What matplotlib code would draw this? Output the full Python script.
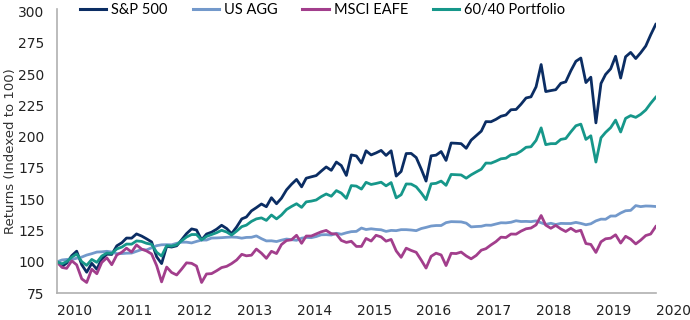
# Growth of 100 for stocks, bonds, international and a 60/40 mix, 2010-2019.

import pandas as pd
import matplotlib as mpl
import matplotlib.pyplot as plt
import matplotlib.dates as mdates

mpl.rcParams.update({
    "font.family": "DejaVu Sans",
})

# month-end dates, Dec 2009 .. Dec 2019
dates = pd.date_range("2009-12-31", periods=121, freq="ME")

sp500 = [100,
    96.3, 99.0, 104.9, 108.5, 97.7, 91.7, 98.8, 94.1, 102.3, 106.1, 105.9, 112.8,
    115.3, 119.0, 118.9, 122.3, 120.6, 118.4, 115.9, 104.0, 98.6, 112.4, 111.8, 112.8,
    117.7, 122.5, 126.3, 125.4, 117.5, 122.2, 123.7, 126.1, 129.2, 126.6, 122.5, 127.9,
    134.3, 135.8, 140.7, 143.3, 146.2, 144.0, 151.2, 146.4, 150.8, 157.5, 161.9, 165.8,
    159.9, 166.8, 167.9, 168.9, 172.5, 175.8, 173.1, 179.7, 176.9, 169.0, 185.4, 184.6,
    178.9, 188.7, 185.4, 187.0, 189.0, 185.0, 188.7, 168.5, 172.2, 186.5, 186.6, 183.3,
    174.0, 164.5, 184.7, 185.2, 188.1, 181.0, 194.9, 194.7, 194.4, 190.7, 197.2, 200.8,
    204.4, 212.0, 211.9, 213.8, 216.3, 217.3, 221.5, 221.7, 225.9, 230.9, 231.8, 239.8,
    257.6, 236.0, 236.8, 237.5, 242.6, 243.8, 252.6, 260.2, 262.8, 243.2, 247.5, 211.0,
    242.5, 249.7, 254.2, 264.2, 246.8, 263.8, 267.3, 262.4, 267.0, 272.4, 281.3, 289.7]

us_agg = [100,
    101.5, 101.9, 101.8, 102.9, 103.8, 105.4, 106.5, 107.8, 108.0, 108.4, 107.8, 106.5,
    106.6, 106.9, 107.0, 108.4, 109.8, 109.5, 111.2, 112.9, 113.6, 113.7, 113.6, 114.8,
    115.7, 115.7, 115.1, 116.3, 117.4, 117.4, 119.0, 119.1, 119.3, 119.6, 119.8, 119.6,
    118.9, 119.5, 119.6, 120.7, 118.5, 116.7, 116.8, 116.2, 117.3, 118.2, 117.7, 117.2,
    118.9, 119.5, 119.3, 120.2, 121.6, 121.7, 121.4, 122.8, 122.0, 123.2, 124.1, 124.3,
    127.0, 125.8, 126.4, 125.9, 125.6, 124.3, 125.1, 124.9, 125.7, 125.7, 125.4, 124.9,
    126.6, 127.5, 128.6, 129.0, 129.0, 131.3, 132.1, 132.0, 131.9, 130.9, 127.9, 128.2,
    128.4, 129.3, 129.2, 130.2, 131.2, 131.1, 131.6, 132.8, 132.2, 132.3, 132.1, 132.7,
    131.2, 129.9, 130.8, 129.8, 130.7, 130.6, 130.6, 131.5, 130.7, 129.6, 130.4, 132.7,
    134.1, 134.0, 136.6, 136.6, 139.0, 140.8, 141.1, 144.9, 144.1, 144.6, 144.5, 144.2]

msci_eafe = [100,
    95.5, 94.8, 100.8, 97.6, 86.4, 83.5, 94.1, 90.5, 99.5, 103.2, 97.7, 105.5,
    107.7, 110.9, 107.8, 113.5, 110.2, 108.7, 106.3, 96.9, 84.0, 95.8, 91.5, 89.5,
    94.3, 99.2, 98.8, 96.6, 83.5, 90.3, 90.6, 92.9, 95.4, 96.4, 98.6, 101.5,
    106.0, 104.8, 105.3, 110.2, 106.9, 102.8, 108.4, 106.6, 113.8, 117.0, 117.6, 121.2,
    114.8, 120.6, 120.6, 122.3, 124.0, 125.1, 122.5, 122.2, 117.1, 115.5, 116.4, 112.3,
    112.3, 118.7, 116.6, 121.2, 119.9, 116.5, 117.9, 108.7, 103.6, 110.9, 109.1, 107.6,
    101.3, 95.0, 104.4, 106.9, 105.5, 97.0, 106.8, 106.6, 107.8, 104.7, 102.4, 105.1,
    109.3, 110.5, 113.5, 116.1, 119.7, 119.4, 122.2, 122.1, 124.5, 126.4, 127.0, 129.5,
    137.0, 129.3, 126.8, 129.1, 126.3, 124.2, 126.8, 124.2, 125.2, 114.6, 113.9, 107.5,
    116.0, 118.4, 118.9, 121.6, 115.0, 120.4, 118.1, 114.3, 117.3, 121.0, 122.2, 128.2]

portfolio_6040 = [100,
    98.4, 100.2, 103.7, 106.3, 100.1, 97.2, 101.9, 99.6, 104.6, 107.0, 106.7, 110.3,
    111.8, 114.2, 114.1, 116.7, 116.3, 114.8, 114.0, 107.6, 104.6, 112.9, 112.5, 113.6,
    116.9, 119.8, 121.8, 121.8, 117.5, 120.3, 121.8, 123.3, 125.2, 123.8, 121.4, 124.6,
    128.1, 129.3, 132.3, 134.3, 135.1, 133.1, 137.4, 134.3, 137.4, 141.8, 144.2, 146.4,
    143.5, 147.9, 148.5, 149.4, 152.1, 154.2, 152.4, 156.9, 154.9, 150.7, 160.9, 160.5,
    158.1, 163.5, 161.8, 162.6, 163.6, 160.7, 163.3, 151.1, 153.6, 162.2, 162.1, 159.9,
    155.0, 149.7, 162.3, 162.7, 164.5, 161.1, 169.8, 169.6, 169.4, 166.8, 169.5, 171.8,
    174.0, 178.9, 178.8, 180.4, 182.3, 182.8, 185.5, 186.1, 188.4, 191.5, 191.9, 197.0,
    207.0, 193.6, 194.4, 194.4, 197.8, 198.5, 203.8, 208.7, 210.0, 197.8, 200.7, 179.7,
    199.1, 203.4, 207.2, 213.2, 203.7, 214.6, 216.8, 215.4, 217.8, 221.3, 226.6, 231.5]

series = [
    ("S&P 500", sp500, "#0b2d63"),
    ("US AGG", us_agg, "#7399cb"),
    ("MSCI EAFE", msci_eafe, "#a23e8c"),
    ("60/40 Portfolio", portfolio_6040, "#16978a"),
]

fig = plt.figure(figsize=(6.9, 3.2), dpi=100)
ax = fig.add_axes([0.0826, 0.084, 0.868, 0.888])

for name, vals, col in series:
    ax.plot(dates, vals, color=col, lw=2.0, label=name)

ax.set_xlim(pd.Timestamp("2009-12-31"), pd.Timestamp("2019-12-31"))
ax.set_ylim(75, 302)
ax.set_yticks([75, 100, 125, 150, 175, 200, 225, 250, 275, 300])

years = [pd.Timestamp(f"{y}-01-01") for y in range(2010, 2021)]
ax.set_xticks(years)
ax.xaxis.set_major_formatter(mdates.DateFormatter("%Y"))
for lbl in ax.get_xticklabels():
    lbl.set_horizontalalignment("left")

ax.tick_params(axis="both", length=0, labelsize=10, colors="#222222")
ax.tick_params(axis="x", pad=8)
ax.tick_params(axis="y", pad=9)
for s in ["top", "right"]:
    ax.spines[s].set_visible(False)
for s in ["left", "bottom"]:
    ax.spines[s].set_color("#b0b0b0")
    ax.spines[s].set_linewidth(1.2)

ax.set_ylabel("Returns (Indexed to 100)", fontsize=9.5, color="#333333")
ax.yaxis.set_label_coords(-0.066, 0.5)

leg = ax.legend(loc="upper left", bbox_to_anchor=(80 / 690, 1 - 3 / 320),
                bbox_transform=fig.transFigure, ncol=4, frameon=False,
                borderaxespad=0, borderpad=0,
                handlelength=1.8, handletextpad=0.35, columnspacing=1.7,
                prop={"family": "Lato", "size": 10.5})
for line in leg.get_lines():
    line.set_linewidth(2.2)

plt.savefig("out.png", dpi=100)
